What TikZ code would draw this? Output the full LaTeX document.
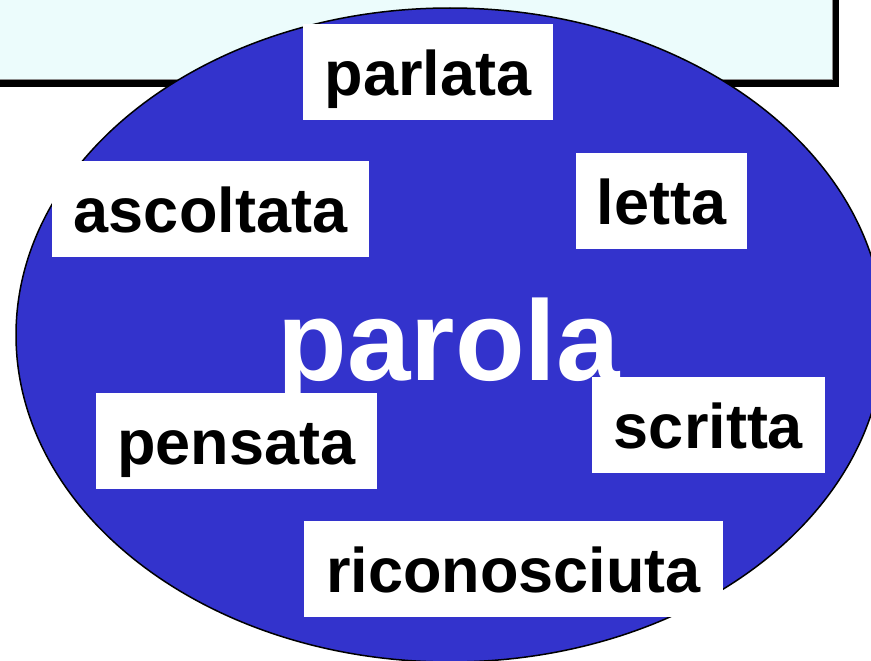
\documentclass[tikz,border=0pt]{standalone}
\usepackage{fontspec}
\setmainfont{Liberation Sans}
\definecolor{ovalblue}{RGB}{51,51,204}
\definecolor{lightcyan}{RGB}{236,252,252}
\tikzset{
  wordbox/.style={fill=white, inner sep=0pt, minimum height=96pt,
    text height=46pt, text depth=0pt, font=\fontsize{63}{70}\selectfont\bfseries, text=black},
}
\begin{document}
\begin{tikzpicture}[x=1pt,y=-1pt]
\useasboundingbox (0,0) rectangle (871,661);
\clip (0,0) rectangle (871,661);
% title panel with shadow
\fill[black] (-20,-20) rectangle (839,87);
\fill[lightcyan, draw=black!45, line width=0.8pt] (-30,-30) rectangle (832,79);
% oval
\draw[fill=ovalblue, line width=1.5pt] (450,335) ellipse [x radius=434pt, y radius=327pt];
% word boxes
\node[wordbox, minimum width=250pt] (parlata) at (428,72.5) {parlata};
\node[wordbox, minimum width=317pt] (ascoltata) at (210.5,209) {ascoltata};
\node[wordbox, minimum width=171pt] (letta) at (661.5,201) {letta};
\node[wordbox, minimum width=281pt] (pensata) at (236.5,441) {pensata};
\node[wordbox, minimum width=233pt] (scritta) at (708.5,425) {scritta};
\node[wordbox, minimum width=419pt] (riconosciuta) at (513.5,569) {riconosciuta};
% central word
\node[anchor=base, inner sep=0pt, text=white, font=\fontsize{114}{120}\selectfont\bfseries] (parola) at (449,380) {parola};
\end{tikzpicture}
\end{document}
